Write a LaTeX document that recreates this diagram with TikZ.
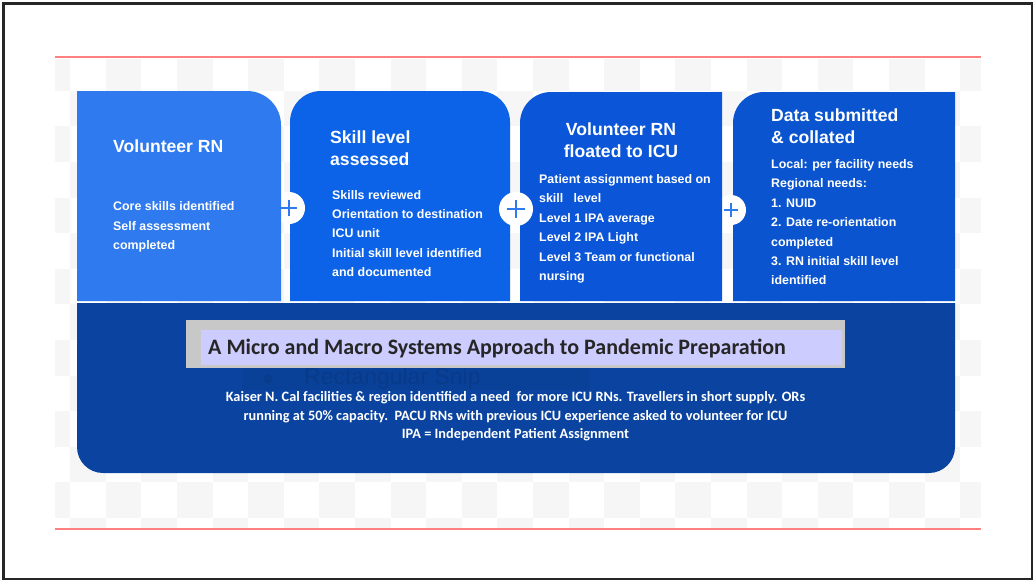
\documentclass[tikz,border=0pt]{standalone}
\usepackage{fontspec}
\setmainfont{Liberation Sans}
\newfontfamily\bannerfont{Carlito}
\newfontfamily\symbolfont{DejaVu Sans}

\definecolor{stepone}{HTML}{2F7AEE}
\definecolor{steptwo}{HTML}{0C63E8}
\definecolor{stepthree}{HTML}{0B56D8}
\definecolor{stepfour}{HTML}{0A55CF}
\definecolor{basebox}{HTML}{0A44A0}
\definecolor{checker}{HTML}{F6F6F6}
\definecolor{redline}{HTML}{FF8080}
\definecolor{bannergray}{HTML}{C8C8C8}
\definecolor{bannerfill}{HTML}{CCCCFF}

\begin{document}
\begin{tikzpicture}[x=1pt,y=-1pt,
    head/.style={inner sep=0pt,anchor=north west,align=left,text=white,
      font=\fontsize{17.6}{22}\selectfont\bfseries},
    body/.style={inner sep=0pt,anchor=north west,align=left,text=white,
      font=\fontsize{12.4}{19.4}\selectfont\bfseries}]

    \useasboundingbox (0,0) rectangle (1036,581);

    % checker background
    \begin{scope}
      \clip (55,59) rectangle (981,527);
      \foreach \j in {0,...,13}
        \foreach \i in {0,2,...,26}
          \fill[checker] ({34.5+35.6*(\i+mod(\j,2))},{55.2+35.6*\j}) rectangle +(35.6,35.6);
    \end{scope}

    % outer frame and red rules
    \draw[black!85,line width=2.5pt] (3.5,3.5) rectangle (1032,579);
    \draw[redline,line width=2pt] (55,57) -- (981,57);
    \draw[redline,line width=2pt] (55,529) -- (981,529);

    % bottom panel
    \fill[basebox] [rounded corners=26pt] (77,303) rectangle (955,473)
      [sharp corners] (77,303) rectangle (955,420);

    % step panels, right to left so the joints overlap
    \fill[stepfour] [rounded corners=31pt] (733,92) rectangle (955,301)
      [sharp corners] (800,92) rectangle (955,301) (733,200) rectangle (955,301);
    \fill[white] (731,210) circle (15pt);
    \draw[stepone,line width=1.6pt] (724,210) -- (738,210) (731,203) -- (731,217);

    \fill[stepthree] [rounded corners=31pt] (520,92) rectangle (722,301)
      [sharp corners] (600,92) rectangle (722,301) (520,200) rectangle (722,301);

    \fill[steptwo] [rounded corners=31pt] (290,91) rectangle (510,301)
      [sharp corners] (290,200) rectangle (510,301);
    \fill[white] (516,209) circle (17pt);
    \draw[stepone,line width=1.6pt] (507,209) -- (525,209) (516,200) -- (516,218);
    \fill[white] (289,208) circle (16pt);
    \draw[stepone,line width=1.6pt] (281,208) -- (297,208) (289,200) -- (289,216);

    \fill[stepone] [rounded corners=34pt] (77,91) rectangle (281,301)
      [sharp corners] (77,91) rectangle (200,301) (77,200) rectangle (281,301);

    % step texts
    \node (volhead) at (113,140) [head] {Volunteer RN};
    \node (volbody) at (113,201.7) [body] {Core skills identified\\Self assessment\\completed};

    \node (skillhead) at (330,131) [head] {Skill level\\assessed};
    \node (skillbody) at (332,190) [body] {Skills reviewed\\Orientation to destination\\ICU unit\\Initial skill level identified\\and documented};

    \node (floathead) at (621,123) [head,anchor=north,align=center] {Volunteer RN\\floated to ICU};
    \node (floatbody) at (539,174.3) [body] {Patient assignment based on\\skill\ \ \ level\\Level 1 IPA average\\Level 2 IPA Light\\Level 3 Team or functional\\nursing};

    \node (datahead) at (771,109) [head] {Data submitted\\\& collated};
    \node (databody) at (771,159.3) [body] {Local: per facility needs\\Regional needs:\\1. NUID\\2. Date re-orientation\\completed\\3. RN initial skill level\\identified};

    % faint snip tooltip left behind the banner
    \fill[basebox!95!black] (242,367) rectangle (590,390);
    \node (snipdot) at (268,379) [text=basebox!88!black,font=\symbolfont\fontsize{12}{14}\selectfont] {●};
    \node (snip) at (304,384.5) [anchor=base west,inner sep=0pt,text=basebox!86!black,
      font=\fontsize{23}{26}\selectfont] {Rectangular Snip};

    % title banner
    \fill[bannergray] (186,320) rectangle (845,367.5);
    \fill[bannerfill] (201,330) rectangle (842,365);
    \node (banner) at (208,354) [anchor=base west,inner sep=0pt,text=black!85,
      font=\bannerfont\bfseries\fontsize{22}{24}\selectfont] {A Micro and Macro Systems Approach to Pandemic Preparation};

    \node (context) at (515.5,391) [anchor=north,inner sep=0pt,align=center,text=white,
      font=\bannerfont\bfseries\fontsize{14.3}{18.8}\selectfont]
      {Kaiser N. Cal facilities \& region identified a need\ \ for more ICU RNs. Travellers in short supply. ORs\\
       running at 50\% capacity.\ \ PACU RNs with previous ICU experience asked to volunteer for ICU\\
       IPA = Independent Patient Assignment};
\end{tikzpicture}
\end{document}
